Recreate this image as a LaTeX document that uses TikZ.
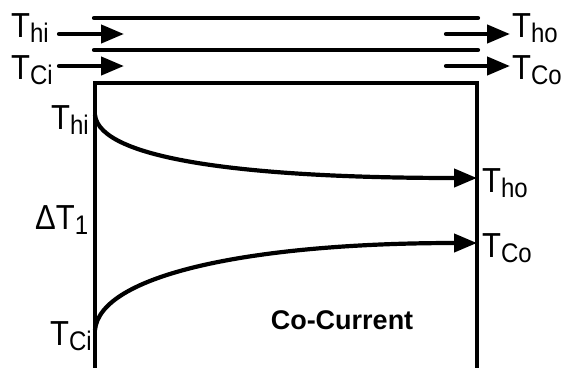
\documentclass[tikz,border=0pt]{standalone}
\usepackage{fontspec}
\setmainfont{Liberation Sans}
\usetikzlibrary{arrows.meta}
\newcommand{\tlab}[2]{\scalebox{1}[1.12]{{\fontsize{31}{31}\selectfont T}\raisebox{-5pt}{\fontsize{24}{24}\selectfont #2}}}
\begin{document}
\begin{tikzpicture}[x=1pt,y=-1pt,
  thick line/.style={line width=4.2pt,line cap=round},
  flow/.style={line width=4.2pt,line cap=round,-{Triangle[length=23pt,width=18pt]}},
  curveflow/.style={line width=4.2pt,line cap=round,-{Triangle[length=23pt,width=18pt]}},
  lbl/.style={inner sep=0pt,anchor=base west}]
\useasboundingbox (0,0) rectangle (564,367);
% coordinates
\coordinate (l1a) at (94,18); \coordinate (l1b) at (478,18);
\coordinate (l2a) at (94,50); \coordinate (l2b) at (478,50);
\coordinate (ha) at (59,34); \coordinate (hb) at (124,34);
\coordinate (ca) at (59,66); \coordinate (cb) at (124,66);
\coordinate (hc) at (446,34); \coordinate (hd) at (510,34);
\coordinate (cc) at (446,66); \coordinate (cd) at (510,66);
\coordinate (bl) at (95,370); \coordinate (tl) at (95,83);
\coordinate (tr) at (477,83); \coordinate (br) at (477,370);
\coordinate (hs) at (95,115); \coordinate (he) at (477,178);
\coordinate (cs) at (95,330); \coordinate (ce) at (477,243);
% tube walls
\draw[thick line] (l1a) -- (l1b);
\draw[thick line] (l2a) -- (l2b);
% flow arrows
\draw[flow] (ha) -- (hb);
\draw[flow] (ca) -- (cb);
\draw[flow] (hc) -- (hd);
\draw[flow] (cc) -- (cd);
% box
\draw[line width=4.2pt, line join=miter] (bl) -- (tl) -- (tr) -- (br);
% curves
\draw[curveflow] (hs) .. controls (100,160) and (250,178) .. (he);
\draw[curveflow] (cs) .. controls (100,275) and (250,243) .. (ce);
% labels
\node[lbl] (thi) at (11,37) {\tlab{T}{hi}};
\node[lbl] (tci) at (11,79) {\tlab{T}{Ci}};
\node[lbl] (tho) at (512,37) {\tlab{T}{ho}};
\node[lbl] (tco) at (512,79) {\tlab{T}{Co}};
\node[lbl] (bthi) at (51,129) {\tlab{T}{hi}};
\node[lbl] (btci) at (50,345) {\tlab{T}{Ci}};
\node[lbl] (btho) at (482,192) {\tlab{T}{ho}};
\node[lbl] (btco) at (482,257) {\tlab{T}{Co}};
\node[lbl] (dt) at (35,229) {\scalebox{1}[1.12]{\fontsize{31}{31}\selectfont ΔT\raisebox{-5pt}{\fontsize{24}{24}\selectfont 1}}};
\node[inner sep=0pt] (cocur) at (342,320) {\fontsize{27}{27}\selectfont\bfseries Co-Current};
\end{tikzpicture}
\end{document}
